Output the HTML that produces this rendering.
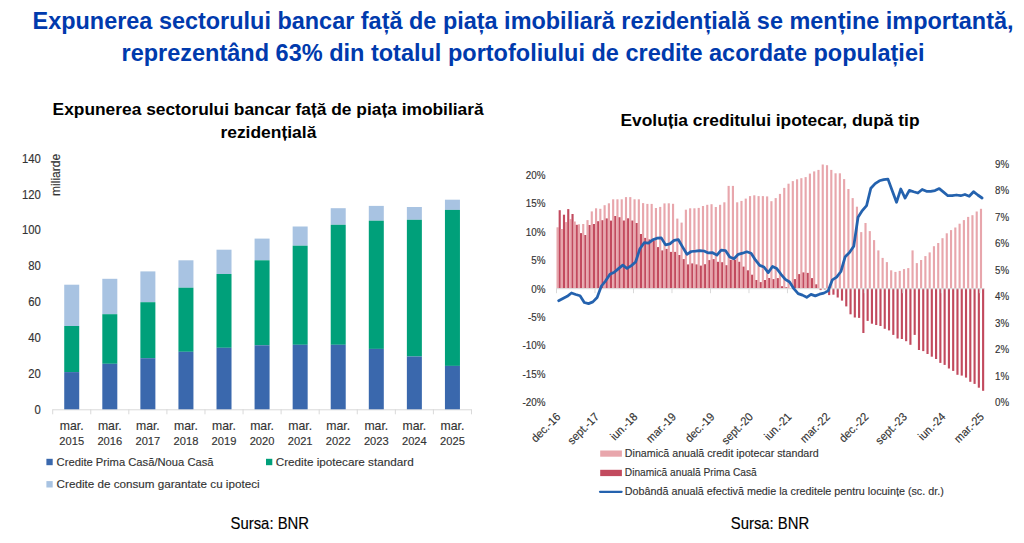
<!DOCTYPE html>
<html><head><meta charset="utf-8"><style>
html,body{margin:0;padding:0;background:#fff;width:1024px;height:543px;overflow:hidden}
svg{display:block;font-family:"Liberation Sans", sans-serif}
</style></head><body>
<svg width="1024" height="543" viewBox="0 0 1024 543">
<rect width="1024" height="543" fill="#fff"/>
<text x="523" y="29" font-size="23.6" fill="#003AAD" font-weight="bold" text-anchor="middle" textLength="981" lengthAdjust="spacingAndGlyphs" >Expunerea sectorului bancar față de piața imobiliară rezidențială se menține importantă,</text>
<text x="523" y="61" font-size="23.6" fill="#003AAD" font-weight="bold" text-anchor="middle" textLength="803" lengthAdjust="spacingAndGlyphs" >reprezentând 63% din totalul portofoliului de credite acordate populației</text>
<text x="268.1" y="114.7" font-size="17.2" fill="#000" font-weight="bold" text-anchor="middle" textLength="431" lengthAdjust="spacingAndGlyphs" >Expunerea sectorului bancar față de piața imobiliară</text>
<text x="268.4" y="138.2" font-size="17.2" fill="#000" font-weight="bold" text-anchor="middle" textLength="96" lengthAdjust="spacingAndGlyphs" >rezidențială</text>
<text x="770" y="126.3" font-size="16.5" fill="#000" font-weight="bold" text-anchor="middle" textLength="299" lengthAdjust="spacingAndGlyphs" >Evoluția creditului ipotecar, după tip</text>
<line x1="52.7" y1="409.8" x2="471.46999999999997" y2="409.8" stroke="#D9D9D9" stroke-width="1"/>
<line x1="52.70" y1="409.3" x2="52.70" y2="414.3" stroke="#D9D9D9" stroke-width="1"/>
<line x1="90.77" y1="409.3" x2="90.77" y2="414.3" stroke="#D9D9D9" stroke-width="1"/>
<line x1="128.84" y1="409.3" x2="128.84" y2="414.3" stroke="#D9D9D9" stroke-width="1"/>
<line x1="166.91" y1="409.3" x2="166.91" y2="414.3" stroke="#D9D9D9" stroke-width="1"/>
<line x1="204.98" y1="409.3" x2="204.98" y2="414.3" stroke="#D9D9D9" stroke-width="1"/>
<line x1="243.05" y1="409.3" x2="243.05" y2="414.3" stroke="#D9D9D9" stroke-width="1"/>
<line x1="281.12" y1="409.3" x2="281.12" y2="414.3" stroke="#D9D9D9" stroke-width="1"/>
<line x1="319.19" y1="409.3" x2="319.19" y2="414.3" stroke="#D9D9D9" stroke-width="1"/>
<line x1="357.26" y1="409.3" x2="357.26" y2="414.3" stroke="#D9D9D9" stroke-width="1"/>
<line x1="395.33" y1="409.3" x2="395.33" y2="414.3" stroke="#D9D9D9" stroke-width="1"/>
<line x1="433.40" y1="409.3" x2="433.40" y2="414.3" stroke="#D9D9D9" stroke-width="1"/>
<line x1="471.47" y1="409.3" x2="471.47" y2="414.3" stroke="#D9D9D9" stroke-width="1"/>
<rect x="64.23" y="284.7" width="15.0" height="41.30" fill="#A8C3E2"/>
<rect x="64.23" y="326.0" width="15.0" height="46.10" fill="#00A07A"/>
<rect x="64.23" y="372.1" width="15.0" height="37.20" fill="#3A68AD"/>
<text x="71.73" y="429.8" font-size="12.2" fill="#333333" font-weight="normal" text-anchor="middle" stroke="#333333" stroke-width="0.15" textLength="23.8" lengthAdjust="spacingAndGlyphs" >mar.</text>
<text x="71.73" y="445.1" font-size="11.8" fill="#333333" font-weight="normal" text-anchor="middle" stroke="#333333" stroke-width="0.15" textLength="24.8" lengthAdjust="spacingAndGlyphs" >2015</text>
<rect x="102.31" y="278.8" width="15.0" height="35.40" fill="#A8C3E2"/>
<rect x="102.31" y="314.2" width="15.0" height="49.60" fill="#00A07A"/>
<rect x="102.31" y="363.8" width="15.0" height="45.50" fill="#3A68AD"/>
<text x="109.81" y="429.8" font-size="12.2" fill="#333333" font-weight="normal" text-anchor="middle" stroke="#333333" stroke-width="0.15" textLength="23.8" lengthAdjust="spacingAndGlyphs" >mar.</text>
<text x="109.81" y="445.1" font-size="11.8" fill="#333333" font-weight="normal" text-anchor="middle" stroke="#333333" stroke-width="0.15" textLength="24.8" lengthAdjust="spacingAndGlyphs" >2016</text>
<rect x="140.38" y="271.4" width="15.0" height="30.80" fill="#A8C3E2"/>
<rect x="140.38" y="302.2" width="15.0" height="56.00" fill="#00A07A"/>
<rect x="140.38" y="358.2" width="15.0" height="51.10" fill="#3A68AD"/>
<text x="147.88" y="429.8" font-size="12.2" fill="#333333" font-weight="normal" text-anchor="middle" stroke="#333333" stroke-width="0.15" textLength="23.8" lengthAdjust="spacingAndGlyphs" >mar.</text>
<text x="147.88" y="445.1" font-size="11.8" fill="#333333" font-weight="normal" text-anchor="middle" stroke="#333333" stroke-width="0.15" textLength="24.8" lengthAdjust="spacingAndGlyphs" >2017</text>
<rect x="178.44" y="260.3" width="15.0" height="27.40" fill="#A8C3E2"/>
<rect x="178.44" y="287.7" width="15.0" height="64.10" fill="#00A07A"/>
<rect x="178.44" y="351.8" width="15.0" height="57.50" fill="#3A68AD"/>
<text x="185.94" y="429.8" font-size="12.2" fill="#333333" font-weight="normal" text-anchor="middle" stroke="#333333" stroke-width="0.15" textLength="23.8" lengthAdjust="spacingAndGlyphs" >mar.</text>
<text x="185.94" y="445.1" font-size="11.8" fill="#333333" font-weight="normal" text-anchor="middle" stroke="#333333" stroke-width="0.15" textLength="24.8" lengthAdjust="spacingAndGlyphs" >2018</text>
<rect x="216.51" y="249.7" width="15.0" height="24.30" fill="#A8C3E2"/>
<rect x="216.51" y="274.0" width="15.0" height="73.80" fill="#00A07A"/>
<rect x="216.51" y="347.8" width="15.0" height="61.50" fill="#3A68AD"/>
<text x="224.01" y="429.8" font-size="12.2" fill="#333333" font-weight="normal" text-anchor="middle" stroke="#333333" stroke-width="0.15" textLength="23.8" lengthAdjust="spacingAndGlyphs" >mar.</text>
<text x="224.01" y="445.1" font-size="11.8" fill="#333333" font-weight="normal" text-anchor="middle" stroke="#333333" stroke-width="0.15" textLength="24.8" lengthAdjust="spacingAndGlyphs" >2019</text>
<rect x="254.58" y="238.6" width="15.0" height="21.70" fill="#A8C3E2"/>
<rect x="254.58" y="260.3" width="15.0" height="85.00" fill="#00A07A"/>
<rect x="254.58" y="345.3" width="15.0" height="64.00" fill="#3A68AD"/>
<text x="262.08" y="429.8" font-size="12.2" fill="#333333" font-weight="normal" text-anchor="middle" stroke="#333333" stroke-width="0.15" textLength="23.8" lengthAdjust="spacingAndGlyphs" >mar.</text>
<text x="262.08" y="445.1" font-size="11.8" fill="#333333" font-weight="normal" text-anchor="middle" stroke="#333333" stroke-width="0.15" textLength="24.8" lengthAdjust="spacingAndGlyphs" >2020</text>
<rect x="292.66" y="226.5" width="15.0" height="19.20" fill="#A8C3E2"/>
<rect x="292.66" y="245.7" width="15.0" height="99.10" fill="#00A07A"/>
<rect x="292.66" y="344.8" width="15.0" height="64.50" fill="#3A68AD"/>
<text x="300.16" y="429.8" font-size="12.2" fill="#333333" font-weight="normal" text-anchor="middle" stroke="#333333" stroke-width="0.15" textLength="23.8" lengthAdjust="spacingAndGlyphs" >mar.</text>
<text x="300.16" y="445.1" font-size="11.8" fill="#333333" font-weight="normal" text-anchor="middle" stroke="#333333" stroke-width="0.15" textLength="24.8" lengthAdjust="spacingAndGlyphs" >2021</text>
<rect x="330.72" y="208.2" width="15.0" height="16.60" fill="#A8C3E2"/>
<rect x="330.72" y="224.8" width="15.0" height="120.00" fill="#00A07A"/>
<rect x="330.72" y="344.8" width="15.0" height="64.50" fill="#3A68AD"/>
<text x="338.22" y="429.8" font-size="12.2" fill="#333333" font-weight="normal" text-anchor="middle" stroke="#333333" stroke-width="0.15" textLength="23.8" lengthAdjust="spacingAndGlyphs" >mar.</text>
<text x="338.22" y="445.1" font-size="11.8" fill="#333333" font-weight="normal" text-anchor="middle" stroke="#333333" stroke-width="0.15" textLength="24.8" lengthAdjust="spacingAndGlyphs" >2022</text>
<rect x="368.80" y="205.9" width="15.0" height="14.80" fill="#A8C3E2"/>
<rect x="368.80" y="220.7" width="15.0" height="128.20" fill="#00A07A"/>
<rect x="368.80" y="348.9" width="15.0" height="60.40" fill="#3A68AD"/>
<text x="376.30" y="429.8" font-size="12.2" fill="#333333" font-weight="normal" text-anchor="middle" stroke="#333333" stroke-width="0.15" textLength="23.8" lengthAdjust="spacingAndGlyphs" >mar.</text>
<text x="376.30" y="445.1" font-size="11.8" fill="#333333" font-weight="normal" text-anchor="middle" stroke="#333333" stroke-width="0.15" textLength="24.8" lengthAdjust="spacingAndGlyphs" >2023</text>
<rect x="406.87" y="207.0" width="15.0" height="12.80" fill="#A8C3E2"/>
<rect x="406.87" y="219.8" width="15.0" height="136.70" fill="#00A07A"/>
<rect x="406.87" y="356.5" width="15.0" height="52.80" fill="#3A68AD"/>
<text x="414.37" y="429.8" font-size="12.2" fill="#333333" font-weight="normal" text-anchor="middle" stroke="#333333" stroke-width="0.15" textLength="23.8" lengthAdjust="spacingAndGlyphs" >mar.</text>
<text x="414.37" y="445.1" font-size="11.8" fill="#333333" font-weight="normal" text-anchor="middle" stroke="#333333" stroke-width="0.15" textLength="24.8" lengthAdjust="spacingAndGlyphs" >2024</text>
<rect x="444.94" y="199.7" width="15.0" height="10.20" fill="#A8C3E2"/>
<rect x="444.94" y="209.9" width="15.0" height="156.00" fill="#00A07A"/>
<rect x="444.94" y="365.9" width="15.0" height="43.40" fill="#3A68AD"/>
<text x="452.44" y="429.8" font-size="12.2" fill="#333333" font-weight="normal" text-anchor="middle" stroke="#333333" stroke-width="0.15" textLength="23.8" lengthAdjust="spacingAndGlyphs" >mar.</text>
<text x="452.44" y="445.1" font-size="11.8" fill="#333333" font-weight="normal" text-anchor="middle" stroke="#333333" stroke-width="0.15" textLength="24.8" lengthAdjust="spacingAndGlyphs" >2025</text>
<text x="40.9" y="413.70" font-size="12.2" fill="#333333" font-weight="normal" text-anchor="end" stroke="#333333" stroke-width="0.15" textLength="6.28" lengthAdjust="spacingAndGlyphs" >0</text>
<text x="40.9" y="377.84" font-size="12.2" fill="#333333" font-weight="normal" text-anchor="end" stroke="#333333" stroke-width="0.15" textLength="12.55" lengthAdjust="spacingAndGlyphs" >20</text>
<text x="40.9" y="341.98" font-size="12.2" fill="#333333" font-weight="normal" text-anchor="end" stroke="#333333" stroke-width="0.15" textLength="12.55" lengthAdjust="spacingAndGlyphs" >40</text>
<text x="40.9" y="306.12" font-size="12.2" fill="#333333" font-weight="normal" text-anchor="end" stroke="#333333" stroke-width="0.15" textLength="12.55" lengthAdjust="spacingAndGlyphs" >60</text>
<text x="40.9" y="270.26" font-size="12.2" fill="#333333" font-weight="normal" text-anchor="end" stroke="#333333" stroke-width="0.15" textLength="12.55" lengthAdjust="spacingAndGlyphs" >80</text>
<text x="40.9" y="234.40" font-size="12.2" fill="#333333" font-weight="normal" text-anchor="end" stroke="#333333" stroke-width="0.15" textLength="18.83" lengthAdjust="spacingAndGlyphs" >100</text>
<text x="40.9" y="198.54" font-size="12.2" fill="#333333" font-weight="normal" text-anchor="end" stroke="#333333" stroke-width="0.15" textLength="18.83" lengthAdjust="spacingAndGlyphs" >120</text>
<text x="40.9" y="162.68" font-size="12.2" fill="#333333" font-weight="normal" text-anchor="end" stroke="#333333" stroke-width="0.15" textLength="18.83" lengthAdjust="spacingAndGlyphs" >140</text>
<text x="0" y="0" font-size="13.2" fill="#333333" stroke="#333333" stroke-width="0.15" text-anchor="end" transform="translate(60.2,153.7) rotate(-90)" textLength="42.3" lengthAdjust="spacingAndGlyphs">miliarde</text>
<rect x="46.4" y="458.8" width="6.3" height="6.4" fill="#3A68AD"/>
<text x="56.6" y="466" font-size="11.8" fill="#333333" font-weight="normal" text-anchor="start" stroke="#333333" stroke-width="0.15" textLength="157" lengthAdjust="spacingAndGlyphs" >Credite Prima Casă/Noua Casă</text>
<rect x="266" y="458.8" width="6.3" height="6.4" fill="#00A07A"/>
<text x="275.7" y="466" font-size="11.8" fill="#333333" font-weight="normal" text-anchor="start" stroke="#333333" stroke-width="0.15" textLength="138" lengthAdjust="spacingAndGlyphs" >Credite ipotecare standard</text>
<rect x="46.4" y="481.1" width="6.3" height="6.4" fill="#A8C3E2"/>
<text x="56.6" y="488.1" font-size="11.8" fill="#333333" font-weight="normal" text-anchor="start" stroke="#333333" stroke-width="0.15" textLength="203" lengthAdjust="spacingAndGlyphs" >Credite de consum garantate cu ipoteci</text>
<text x="269.8" y="528.5" font-size="16.6" fill="#000" font-weight="normal" text-anchor="middle" stroke="#000" stroke-width="0.15" textLength="78.5" lengthAdjust="spacingAndGlyphs" >Sursa: BNR</text>
<rect x="556.50" y="227.3" width="2.139" height="60.90" fill="#E8A6AC"/>
<rect x="558.64" y="210.2" width="2.139" height="78.00" fill="#C24A5E"/>
<rect x="560.78" y="229" width="2.139" height="59.20" fill="#E8A6AC"/>
<rect x="562.92" y="214.7" width="2.139" height="73.50" fill="#C24A5E"/>
<rect x="565.05" y="222.1" width="2.139" height="66.10" fill="#E8A6AC"/>
<rect x="567.19" y="209.1" width="2.139" height="79.10" fill="#C24A5E"/>
<rect x="569.33" y="219.1" width="2.139" height="69.10" fill="#E8A6AC"/>
<rect x="571.47" y="214" width="2.139" height="74.20" fill="#C24A5E"/>
<rect x="573.61" y="221.5" width="2.139" height="66.70" fill="#E8A6AC"/>
<rect x="575.75" y="224.8" width="2.139" height="63.40" fill="#C24A5E"/>
<rect x="577.88" y="224.3" width="2.139" height="63.90" fill="#E8A6AC"/>
<rect x="580.02" y="233.1" width="2.139" height="55.10" fill="#C24A5E"/>
<rect x="582.16" y="224" width="2.139" height="64.20" fill="#E8A6AC"/>
<rect x="584.30" y="235" width="2.139" height="53.20" fill="#C24A5E"/>
<rect x="586.44" y="220.1" width="2.139" height="68.10" fill="#E8A6AC"/>
<rect x="588.58" y="225" width="2.139" height="63.20" fill="#C24A5E"/>
<rect x="590.72" y="211.4" width="2.139" height="76.80" fill="#E8A6AC"/>
<rect x="592.85" y="224" width="2.139" height="64.20" fill="#C24A5E"/>
<rect x="594.99" y="208.3" width="2.139" height="79.90" fill="#E8A6AC"/>
<rect x="597.13" y="221.2" width="2.139" height="67.00" fill="#C24A5E"/>
<rect x="599.27" y="208.8" width="2.139" height="79.40" fill="#E8A6AC"/>
<rect x="601.41" y="220.2" width="2.139" height="68.00" fill="#C24A5E"/>
<rect x="603.55" y="205.2" width="2.139" height="83.00" fill="#E8A6AC"/>
<rect x="605.69" y="218.4" width="2.139" height="69.80" fill="#C24A5E"/>
<rect x="607.82" y="203.3" width="2.139" height="84.90" fill="#E8A6AC"/>
<rect x="609.96" y="220.6" width="2.139" height="67.60" fill="#C24A5E"/>
<rect x="612.10" y="199.3" width="2.139" height="88.90" fill="#E8A6AC"/>
<rect x="614.24" y="216" width="2.139" height="72.20" fill="#C24A5E"/>
<rect x="616.38" y="199.3" width="2.139" height="88.90" fill="#E8A6AC"/>
<rect x="618.52" y="217.2" width="2.139" height="71.00" fill="#C24A5E"/>
<rect x="620.65" y="199.3" width="2.139" height="88.90" fill="#E8A6AC"/>
<rect x="622.79" y="220.5" width="2.139" height="67.70" fill="#C24A5E"/>
<rect x="624.93" y="197.1" width="2.139" height="91.10" fill="#E8A6AC"/>
<rect x="627.07" y="218.3" width="2.139" height="69.90" fill="#C24A5E"/>
<rect x="629.21" y="197.1" width="2.139" height="91.10" fill="#E8A6AC"/>
<rect x="631.35" y="220.5" width="2.139" height="67.70" fill="#C24A5E"/>
<rect x="633.49" y="199.3" width="2.139" height="88.90" fill="#E8A6AC"/>
<rect x="635.62" y="223" width="2.139" height="65.20" fill="#C24A5E"/>
<rect x="637.76" y="199.3" width="2.139" height="88.90" fill="#E8A6AC"/>
<rect x="639.90" y="234" width="2.139" height="54.20" fill="#C24A5E"/>
<rect x="642.04" y="203.1" width="2.139" height="85.10" fill="#E8A6AC"/>
<rect x="644.18" y="237.9" width="2.139" height="50.30" fill="#C24A5E"/>
<rect x="646.32" y="203.9" width="2.139" height="84.30" fill="#E8A6AC"/>
<rect x="648.46" y="239.4" width="2.139" height="48.80" fill="#C24A5E"/>
<rect x="650.59" y="203.9" width="2.139" height="84.30" fill="#E8A6AC"/>
<rect x="652.73" y="241" width="2.139" height="47.20" fill="#C24A5E"/>
<rect x="654.87" y="208" width="2.139" height="80.20" fill="#E8A6AC"/>
<rect x="657.01" y="247.1" width="2.139" height="41.10" fill="#C24A5E"/>
<rect x="659.15" y="206.9" width="2.139" height="81.30" fill="#E8A6AC"/>
<rect x="661.29" y="250.4" width="2.139" height="37.80" fill="#C24A5E"/>
<rect x="663.42" y="203.4" width="2.139" height="84.80" fill="#E8A6AC"/>
<rect x="665.56" y="248.9" width="2.139" height="39.30" fill="#C24A5E"/>
<rect x="667.70" y="203.3" width="2.139" height="84.90" fill="#E8A6AC"/>
<rect x="669.84" y="251.9" width="2.139" height="36.30" fill="#C24A5E"/>
<rect x="671.98" y="203.8" width="2.139" height="84.40" fill="#E8A6AC"/>
<rect x="674.12" y="251.9" width="2.139" height="36.30" fill="#C24A5E"/>
<rect x="676.26" y="218.6" width="2.139" height="69.60" fill="#E8A6AC"/>
<rect x="678.39" y="255" width="2.139" height="33.20" fill="#C24A5E"/>
<rect x="680.53" y="222.6" width="2.139" height="65.60" fill="#E8A6AC"/>
<rect x="682.67" y="259.1" width="2.139" height="29.10" fill="#C24A5E"/>
<rect x="684.81" y="209.7" width="2.139" height="78.50" fill="#E8A6AC"/>
<rect x="686.95" y="264.4" width="2.139" height="23.80" fill="#C24A5E"/>
<rect x="689.09" y="208.3" width="2.139" height="79.90" fill="#E8A6AC"/>
<rect x="691.23" y="263.4" width="2.139" height="24.80" fill="#C24A5E"/>
<rect x="693.36" y="208.3" width="2.139" height="79.90" fill="#E8A6AC"/>
<rect x="695.50" y="264.4" width="2.139" height="23.80" fill="#C24A5E"/>
<rect x="697.64" y="207.9" width="2.139" height="80.30" fill="#E8A6AC"/>
<rect x="699.78" y="265.6" width="2.139" height="22.60" fill="#C24A5E"/>
<rect x="701.92" y="206" width="2.139" height="82.20" fill="#E8A6AC"/>
<rect x="704.06" y="264.2" width="2.139" height="24.00" fill="#C24A5E"/>
<rect x="706.19" y="204.8" width="2.139" height="83.40" fill="#E8A6AC"/>
<rect x="708.33" y="260.1" width="2.139" height="28.10" fill="#C24A5E"/>
<rect x="710.47" y="204.2" width="2.139" height="84.00" fill="#E8A6AC"/>
<rect x="712.61" y="259.1" width="2.139" height="29.10" fill="#C24A5E"/>
<rect x="714.75" y="207" width="2.139" height="81.20" fill="#E8A6AC"/>
<rect x="716.89" y="261.8" width="2.139" height="26.40" fill="#C24A5E"/>
<rect x="719.03" y="204.8" width="2.139" height="83.40" fill="#E8A6AC"/>
<rect x="721.16" y="262.2" width="2.139" height="26.00" fill="#C24A5E"/>
<rect x="723.30" y="202.3" width="2.139" height="85.90" fill="#E8A6AC"/>
<rect x="725.44" y="265.2" width="2.139" height="23.00" fill="#C24A5E"/>
<rect x="727.58" y="185.9" width="2.139" height="102.30" fill="#E8A6AC"/>
<rect x="729.72" y="259.8" width="2.139" height="28.40" fill="#C24A5E"/>
<rect x="731.86" y="185.9" width="2.139" height="102.30" fill="#E8A6AC"/>
<rect x="734.00" y="259.8" width="2.139" height="28.40" fill="#C24A5E"/>
<rect x="736.13" y="202.3" width="2.139" height="85.90" fill="#E8A6AC"/>
<rect x="738.27" y="261.8" width="2.139" height="26.40" fill="#C24A5E"/>
<rect x="740.41" y="200.9" width="2.139" height="87.30" fill="#E8A6AC"/>
<rect x="742.55" y="266.6" width="2.139" height="21.60" fill="#C24A5E"/>
<rect x="744.69" y="198.6" width="2.139" height="89.60" fill="#E8A6AC"/>
<rect x="746.83" y="270.3" width="2.139" height="17.90" fill="#C24A5E"/>
<rect x="748.97" y="196.1" width="2.139" height="92.10" fill="#E8A6AC"/>
<rect x="751.10" y="274.7" width="2.139" height="13.50" fill="#C24A5E"/>
<rect x="753.24" y="195.3" width="2.139" height="92.90" fill="#E8A6AC"/>
<rect x="755.38" y="280" width="2.139" height="8.20" fill="#C24A5E"/>
<rect x="757.52" y="196.1" width="2.139" height="92.10" fill="#E8A6AC"/>
<rect x="759.66" y="282.1" width="2.139" height="6.10" fill="#C24A5E"/>
<rect x="761.80" y="196.1" width="2.139" height="92.10" fill="#E8A6AC"/>
<rect x="763.93" y="280" width="2.139" height="8.20" fill="#C24A5E"/>
<rect x="766.07" y="196.4" width="2.139" height="91.80" fill="#E8A6AC"/>
<rect x="768.21" y="278" width="2.139" height="10.20" fill="#C24A5E"/>
<rect x="770.35" y="201.2" width="2.139" height="87.00" fill="#E8A6AC"/>
<rect x="772.49" y="279.1" width="2.139" height="9.10" fill="#C24A5E"/>
<rect x="774.63" y="198.1" width="2.139" height="90.10" fill="#E8A6AC"/>
<rect x="776.77" y="278.1" width="2.139" height="10.10" fill="#C24A5E"/>
<rect x="778.90" y="193.9" width="2.139" height="94.30" fill="#E8A6AC"/>
<rect x="781.04" y="286.2" width="2.139" height="2.00" fill="#C24A5E"/>
<rect x="783.18" y="187.9" width="2.139" height="100.30" fill="#E8A6AC"/>
<rect x="785.32" y="287.2" width="2.139" height="1.00" fill="#C24A5E"/>
<rect x="787.46" y="183.7" width="2.139" height="104.50" fill="#E8A6AC"/>
<rect x="789.60" y="288" width="2.139" height="0.20" fill="#C24A5E"/>
<rect x="791.74" y="181.1" width="2.139" height="107.10" fill="#E8A6AC"/>
<rect x="793.87" y="279.1" width="2.139" height="9.10" fill="#C24A5E"/>
<rect x="796.01" y="179.3" width="2.139" height="108.90" fill="#E8A6AC"/>
<rect x="798.15" y="274.1" width="2.139" height="14.10" fill="#C24A5E"/>
<rect x="800.29" y="178.2" width="2.139" height="110.00" fill="#E8A6AC"/>
<rect x="802.43" y="272.4" width="2.139" height="15.80" fill="#C24A5E"/>
<rect x="804.57" y="177.1" width="2.139" height="111.10" fill="#E8A6AC"/>
<rect x="806.70" y="272.9" width="2.139" height="15.30" fill="#C24A5E"/>
<rect x="808.84" y="173.6" width="2.139" height="114.60" fill="#E8A6AC"/>
<rect x="810.98" y="278.1" width="2.139" height="10.10" fill="#C24A5E"/>
<rect x="813.12" y="171.4" width="2.139" height="116.80" fill="#E8A6AC"/>
<rect x="815.26" y="284.3" width="2.139" height="3.90" fill="#C24A5E"/>
<rect x="817.40" y="169.9" width="2.139" height="118.30" fill="#E8A6AC"/>
<rect x="819.54" y="288.2" width="2.139" height="1.90" fill="#C24A5E"/>
<rect x="821.67" y="164.5" width="2.139" height="123.70" fill="#E8A6AC"/>
<rect x="823.81" y="288.2" width="2.139" height="1.30" fill="#C24A5E"/>
<rect x="825.95" y="165.2" width="2.139" height="123.00" fill="#E8A6AC"/>
<rect x="828.09" y="288.2" width="2.139" height="6.90" fill="#C24A5E"/>
<rect x="830.23" y="169.9" width="2.139" height="118.30" fill="#E8A6AC"/>
<rect x="832.37" y="288.2" width="2.139" height="6.50" fill="#C24A5E"/>
<rect x="834.50" y="173.3" width="2.139" height="114.90" fill="#E8A6AC"/>
<rect x="836.64" y="288.2" width="2.139" height="9.30" fill="#C24A5E"/>
<rect x="838.78" y="173.3" width="2.139" height="114.90" fill="#E8A6AC"/>
<rect x="840.92" y="288.2" width="2.139" height="12.40" fill="#C24A5E"/>
<rect x="843.06" y="179.1" width="2.139" height="109.10" fill="#E8A6AC"/>
<rect x="845.20" y="288.2" width="2.139" height="18.20" fill="#C24A5E"/>
<rect x="847.34" y="189" width="2.139" height="99.20" fill="#E8A6AC"/>
<rect x="849.47" y="288.2" width="2.139" height="26.10" fill="#C24A5E"/>
<rect x="851.61" y="198.1" width="2.139" height="90.10" fill="#E8A6AC"/>
<rect x="853.75" y="288.2" width="2.139" height="29.30" fill="#C24A5E"/>
<rect x="855.89" y="206.7" width="2.139" height="81.50" fill="#E8A6AC"/>
<rect x="858.03" y="288.2" width="2.139" height="29.70" fill="#C24A5E"/>
<rect x="860.17" y="232.1" width="2.139" height="56.10" fill="#E8A6AC"/>
<rect x="862.31" y="288.2" width="2.139" height="44.80" fill="#C24A5E"/>
<rect x="864.44" y="223" width="2.139" height="65.20" fill="#E8A6AC"/>
<rect x="866.58" y="288.2" width="2.139" height="32.70" fill="#C24A5E"/>
<rect x="868.72" y="231.1" width="2.139" height="57.10" fill="#E8A6AC"/>
<rect x="870.86" y="288.2" width="2.139" height="35.50" fill="#C24A5E"/>
<rect x="873.00" y="240.1" width="2.139" height="48.10" fill="#E8A6AC"/>
<rect x="875.14" y="288.2" width="2.139" height="36.80" fill="#C24A5E"/>
<rect x="877.28" y="250.4" width="2.139" height="37.80" fill="#E8A6AC"/>
<rect x="879.41" y="288.2" width="2.139" height="37.80" fill="#C24A5E"/>
<rect x="881.55" y="257.9" width="2.139" height="30.30" fill="#E8A6AC"/>
<rect x="883.69" y="288.2" width="2.139" height="40.60" fill="#C24A5E"/>
<rect x="885.83" y="262.1" width="2.139" height="26.10" fill="#E8A6AC"/>
<rect x="887.97" y="288.2" width="2.139" height="42.20" fill="#C24A5E"/>
<rect x="890.11" y="270.3" width="2.139" height="17.90" fill="#E8A6AC"/>
<rect x="892.24" y="288.2" width="2.139" height="46.70" fill="#C24A5E"/>
<rect x="894.38" y="271.9" width="2.139" height="16.30" fill="#E8A6AC"/>
<rect x="896.52" y="288.2" width="2.139" height="50.30" fill="#C24A5E"/>
<rect x="898.66" y="270.9" width="2.139" height="17.30" fill="#E8A6AC"/>
<rect x="900.80" y="288.2" width="2.139" height="50.80" fill="#C24A5E"/>
<rect x="902.94" y="269.1" width="2.139" height="19.10" fill="#E8A6AC"/>
<rect x="905.08" y="288.2" width="2.139" height="53.00" fill="#C24A5E"/>
<rect x="907.21" y="268.1" width="2.139" height="20.10" fill="#E8A6AC"/>
<rect x="909.35" y="288.2" width="2.139" height="56.60" fill="#C24A5E"/>
<rect x="911.49" y="250.4" width="2.139" height="37.80" fill="#E8A6AC"/>
<rect x="913.63" y="288.2" width="2.139" height="46.70" fill="#C24A5E"/>
<rect x="915.77" y="263.1" width="2.139" height="25.10" fill="#E8A6AC"/>
<rect x="917.91" y="288.2" width="2.139" height="61.80" fill="#C24A5E"/>
<rect x="920.05" y="260" width="2.139" height="28.20" fill="#E8A6AC"/>
<rect x="922.18" y="288.2" width="2.139" height="62.90" fill="#C24A5E"/>
<rect x="924.32" y="256.1" width="2.139" height="32.10" fill="#E8A6AC"/>
<rect x="926.46" y="288.2" width="2.139" height="65.80" fill="#C24A5E"/>
<rect x="928.60" y="252.4" width="2.139" height="35.80" fill="#E8A6AC"/>
<rect x="930.74" y="288.2" width="2.139" height="68.50" fill="#C24A5E"/>
<rect x="932.88" y="246.2" width="2.139" height="42.00" fill="#E8A6AC"/>
<rect x="935.01" y="288.2" width="2.139" height="70.80" fill="#C24A5E"/>
<rect x="937.15" y="243" width="2.139" height="45.20" fill="#E8A6AC"/>
<rect x="939.29" y="288.2" width="2.139" height="74.70" fill="#C24A5E"/>
<rect x="941.43" y="238.2" width="2.139" height="50.00" fill="#E8A6AC"/>
<rect x="943.57" y="288.2" width="2.139" height="76.70" fill="#C24A5E"/>
<rect x="945.71" y="233.3" width="2.139" height="54.90" fill="#E8A6AC"/>
<rect x="947.85" y="288.2" width="2.139" height="80.30" fill="#C24A5E"/>
<rect x="949.98" y="230.1" width="2.139" height="58.10" fill="#E8A6AC"/>
<rect x="952.12" y="288.2" width="2.139" height="82.70" fill="#C24A5E"/>
<rect x="954.26" y="227.5" width="2.139" height="60.70" fill="#E8A6AC"/>
<rect x="956.40" y="288.2" width="2.139" height="86.60" fill="#C24A5E"/>
<rect x="958.54" y="223.7" width="2.139" height="64.50" fill="#E8A6AC"/>
<rect x="960.68" y="288.2" width="2.139" height="87.40" fill="#C24A5E"/>
<rect x="962.82" y="220.1" width="2.139" height="68.10" fill="#E8A6AC"/>
<rect x="964.95" y="288.2" width="2.139" height="89.40" fill="#C24A5E"/>
<rect x="967.09" y="216.9" width="2.139" height="71.30" fill="#E8A6AC"/>
<rect x="969.23" y="288.2" width="2.139" height="93.60" fill="#C24A5E"/>
<rect x="971.37" y="215.2" width="2.139" height="73.00" fill="#E8A6AC"/>
<rect x="973.51" y="288.2" width="2.139" height="95.70" fill="#C24A5E"/>
<rect x="975.65" y="211.5" width="2.139" height="76.70" fill="#E8A6AC"/>
<rect x="977.78" y="288.2" width="2.139" height="99.50" fill="#C24A5E"/>
<rect x="979.92" y="208.8" width="2.139" height="79.40" fill="#E8A6AC"/>
<rect x="982.06" y="288.2" width="2.139" height="102.60" fill="#C24A5E"/>
<line x1="556.5" y1="288.7" x2="984.20" y2="288.7" stroke="#D9D9D9" stroke-width="1"/>
<line x1="556.50" y1="288.2" x2="556.50" y2="293.2" stroke="#D9D9D9" stroke-width="1"/>
<line x1="594.99" y1="288.2" x2="594.99" y2="293.2" stroke="#D9D9D9" stroke-width="1"/>
<line x1="633.49" y1="288.2" x2="633.49" y2="293.2" stroke="#D9D9D9" stroke-width="1"/>
<line x1="671.98" y1="288.2" x2="671.98" y2="293.2" stroke="#D9D9D9" stroke-width="1"/>
<line x1="710.47" y1="288.2" x2="710.47" y2="293.2" stroke="#D9D9D9" stroke-width="1"/>
<line x1="748.97" y1="288.2" x2="748.97" y2="293.2" stroke="#D9D9D9" stroke-width="1"/>
<line x1="787.46" y1="288.2" x2="787.46" y2="293.2" stroke="#D9D9D9" stroke-width="1"/>
<line x1="825.95" y1="288.2" x2="825.95" y2="293.2" stroke="#D9D9D9" stroke-width="1"/>
<line x1="864.44" y1="288.2" x2="864.44" y2="293.2" stroke="#D9D9D9" stroke-width="1"/>
<line x1="902.94" y1="288.2" x2="902.94" y2="293.2" stroke="#D9D9D9" stroke-width="1"/>
<line x1="941.43" y1="288.2" x2="941.43" y2="293.2" stroke="#D9D9D9" stroke-width="1"/>
<line x1="979.92" y1="288.2" x2="979.92" y2="293.2" stroke="#D9D9D9" stroke-width="1"/>
<polyline points="558.64,300.7 562.92,298.5 567.19,296.3 571.47,293 575.75,294.5 580.02,295.8 584.30,302.5 588.58,303.6 592.85,301.9 597.13,297.5 601.41,286 605.69,280.8 609.96,274.2 614.24,272.3 618.52,268.6 622.79,265.1 627.07,268.3 631.35,265.6 635.62,262 639.90,248.7 644.18,242.7 648.46,243.2 652.73,239.9 657.01,238.2 661.29,237.9 665.56,244.9 669.84,243.8 674.12,240.4 678.39,239.7 682.67,247.1 686.95,254.3 691.23,251.5 695.50,251.2 699.78,250.7 704.06,251 708.33,252.9 712.61,252.7 716.89,255.1 721.16,250.2 725.44,250.5 729.72,256.9 734.00,258.8 738.27,254.3 742.55,253.2 746.83,251.8 751.10,253.2 755.38,259.9 759.66,265.4 763.93,267 768.21,272.6 772.49,266.5 776.77,268.6 781.04,274.3 785.32,279.3 789.60,282 793.87,288.7 798.15,293.6 802.43,295.1 806.70,297.3 810.98,294.4 815.26,295.9 819.54,294.2 823.81,293.1 828.09,290.9 832.37,279.8 836.64,277.1 840.92,271.5 845.20,256.7 849.47,252.6 853.75,246.2 858.03,217.2 862.31,210.6 866.58,205.6 870.86,188.2 875.14,183.6 879.41,180.8 883.69,179.6 887.97,179.1 892.24,190.7 896.52,202.3 900.80,189 905.08,198.1 909.35,190.4 913.63,191.8 917.91,193 922.18,189.5 926.46,191.3 930.74,191.3 935.01,190.6 939.29,188.6 943.57,192.1 947.85,195.7 952.12,195.7 956.40,195 960.68,195.7 964.95,194.5 969.23,196.3 973.51,191.7 977.78,195 982.06,198" fill="none" stroke="#2462AE" stroke-width="2.75" stroke-linejoin="round" stroke-linecap="round"/>
<text x="545.6" y="178.90" font-size="11.2" fill="#333333" font-weight="normal" text-anchor="end" stroke="#333333" stroke-width="0.15" textLength="19.73" lengthAdjust="spacingAndGlyphs" >20%</text>
<text x="545.6" y="207.30" font-size="11.2" fill="#333333" font-weight="normal" text-anchor="end" stroke="#333333" stroke-width="0.15" textLength="19.73" lengthAdjust="spacingAndGlyphs" >15%</text>
<text x="545.6" y="235.70" font-size="11.2" fill="#333333" font-weight="normal" text-anchor="end" stroke="#333333" stroke-width="0.15" textLength="19.73" lengthAdjust="spacingAndGlyphs" >10%</text>
<text x="545.6" y="264.10" font-size="11.2" fill="#333333" font-weight="normal" text-anchor="end" stroke="#333333" stroke-width="0.15" textLength="14.24" lengthAdjust="spacingAndGlyphs" >5%</text>
<text x="545.6" y="292.50" font-size="11.2" fill="#333333" font-weight="normal" text-anchor="end" stroke="#333333" stroke-width="0.15" textLength="14.24" lengthAdjust="spacingAndGlyphs" >0%</text>
<text x="545.6" y="320.90" font-size="11.2" fill="#333333" font-weight="normal" text-anchor="end" stroke="#333333" stroke-width="0.15" textLength="17.53" lengthAdjust="spacingAndGlyphs" >-5%</text>
<text x="545.6" y="349.30" font-size="11.2" fill="#333333" font-weight="normal" text-anchor="end" stroke="#333333" stroke-width="0.15" textLength="23.01" lengthAdjust="spacingAndGlyphs" >-10%</text>
<text x="545.6" y="377.70" font-size="11.2" fill="#333333" font-weight="normal" text-anchor="end" stroke="#333333" stroke-width="0.15" textLength="23.01" lengthAdjust="spacingAndGlyphs" >-15%</text>
<text x="545.6" y="406.10" font-size="11.2" fill="#333333" font-weight="normal" text-anchor="end" stroke="#333333" stroke-width="0.15" textLength="23.01" lengthAdjust="spacingAndGlyphs" >-20%</text>
<text x="995" y="406.00" font-size="11.2" fill="#333333" font-weight="normal" text-anchor="start" stroke="#333333" stroke-width="0.15" textLength="14.08" lengthAdjust="spacingAndGlyphs" >0%</text>
<text x="995" y="379.54" font-size="11.2" fill="#333333" font-weight="normal" text-anchor="start" stroke="#333333" stroke-width="0.15" textLength="14.08" lengthAdjust="spacingAndGlyphs" >1%</text>
<text x="995" y="353.08" font-size="11.2" fill="#333333" font-weight="normal" text-anchor="start" stroke="#333333" stroke-width="0.15" textLength="14.08" lengthAdjust="spacingAndGlyphs" >2%</text>
<text x="995" y="326.62" font-size="11.2" fill="#333333" font-weight="normal" text-anchor="start" stroke="#333333" stroke-width="0.15" textLength="14.08" lengthAdjust="spacingAndGlyphs" >3%</text>
<text x="995" y="300.16" font-size="11.2" fill="#333333" font-weight="normal" text-anchor="start" stroke="#333333" stroke-width="0.15" textLength="14.08" lengthAdjust="spacingAndGlyphs" >4%</text>
<text x="995" y="273.70" font-size="11.2" fill="#333333" font-weight="normal" text-anchor="start" stroke="#333333" stroke-width="0.15" textLength="14.08" lengthAdjust="spacingAndGlyphs" >5%</text>
<text x="995" y="247.24" font-size="11.2" fill="#333333" font-weight="normal" text-anchor="start" stroke="#333333" stroke-width="0.15" textLength="14.08" lengthAdjust="spacingAndGlyphs" >6%</text>
<text x="995" y="220.78" font-size="11.2" fill="#333333" font-weight="normal" text-anchor="start" stroke="#333333" stroke-width="0.15" textLength="14.08" lengthAdjust="spacingAndGlyphs" >7%</text>
<text x="995" y="194.32" font-size="11.2" fill="#333333" font-weight="normal" text-anchor="start" stroke="#333333" stroke-width="0.15" textLength="14.08" lengthAdjust="spacingAndGlyphs" >8%</text>
<text x="995" y="167.86" font-size="11.2" fill="#333333" font-weight="normal" text-anchor="start" stroke="#333333" stroke-width="0.15" textLength="14.08" lengthAdjust="spacingAndGlyphs" >9%</text>
<text x="0" y="0" font-size="11.6" fill="#333333" stroke="#333333" stroke-width="0.15" text-anchor="end" textLength="35.98" lengthAdjust="spacingAndGlyphs" transform="translate(561.24,417.6) rotate(-45)">dec.-16</text>
<text x="0" y="0" font-size="11.6" fill="#333333" stroke="#333333" stroke-width="0.15" text-anchor="end" textLength="38.98" lengthAdjust="spacingAndGlyphs" transform="translate(599.73,417.6) rotate(-45)">sept.-17</text>
<text x="0" y="0" font-size="11.6" fill="#333333" stroke="#333333" stroke-width="0.15" text-anchor="end" textLength="32.98" lengthAdjust="spacingAndGlyphs" transform="translate(638.22,417.6) rotate(-45)">iun.-18</text>
<text x="0" y="0" font-size="11.6" fill="#333333" stroke="#333333" stroke-width="0.15" text-anchor="end" textLength="36.57" lengthAdjust="spacingAndGlyphs" transform="translate(676.72,417.6) rotate(-45)">mar.-19</text>
<text x="0" y="0" font-size="11.6" fill="#333333" stroke="#333333" stroke-width="0.15" text-anchor="end" textLength="35.98" lengthAdjust="spacingAndGlyphs" transform="translate(715.21,417.6) rotate(-45)">dec.-19</text>
<text x="0" y="0" font-size="11.6" fill="#333333" stroke="#333333" stroke-width="0.15" text-anchor="end" textLength="38.98" lengthAdjust="spacingAndGlyphs" transform="translate(753.70,417.6) rotate(-45)">sept.-20</text>
<text x="0" y="0" font-size="11.6" fill="#333333" stroke="#333333" stroke-width="0.15" text-anchor="end" textLength="32.98" lengthAdjust="spacingAndGlyphs" transform="translate(792.20,417.6) rotate(-45)">iun.-21</text>
<text x="0" y="0" font-size="11.6" fill="#333333" stroke="#333333" stroke-width="0.15" text-anchor="end" textLength="36.57" lengthAdjust="spacingAndGlyphs" transform="translate(830.69,417.6) rotate(-45)">mar.-22</text>
<text x="0" y="0" font-size="11.6" fill="#333333" stroke="#333333" stroke-width="0.15" text-anchor="end" textLength="35.98" lengthAdjust="spacingAndGlyphs" transform="translate(869.18,417.6) rotate(-45)">dec.-22</text>
<text x="0" y="0" font-size="11.6" fill="#333333" stroke="#333333" stroke-width="0.15" text-anchor="end" textLength="38.98" lengthAdjust="spacingAndGlyphs" transform="translate(907.68,417.6) rotate(-45)">sept.-23</text>
<text x="0" y="0" font-size="11.6" fill="#333333" stroke="#333333" stroke-width="0.15" text-anchor="end" textLength="32.98" lengthAdjust="spacingAndGlyphs" transform="translate(946.17,417.6) rotate(-45)">iun.-24</text>
<text x="0" y="0" font-size="11.6" fill="#333333" stroke="#333333" stroke-width="0.15" text-anchor="end" textLength="36.57" lengthAdjust="spacingAndGlyphs" transform="translate(984.66,417.6) rotate(-45)">mar.-25</text>
<rect x="600.2" y="450.5" width="21.7" height="6.2" fill="#E8A6AC"/>
<text x="624.8" y="457.2" font-size="11.2" fill="#333333" font-weight="normal" text-anchor="start" stroke="#333333" stroke-width="0.15" textLength="194" lengthAdjust="spacingAndGlyphs" >Dinamică anuală credit ipotecar standard</text>
<rect x="600.2" y="469.8" width="21.7" height="6.3" fill="#C24A5E"/>
<text x="624.8" y="476.1" font-size="11.2" fill="#333333" font-weight="normal" text-anchor="start" stroke="#333333" stroke-width="0.15" textLength="132" lengthAdjust="spacingAndGlyphs" >Dinamică anuală Prima Casă</text>
<line x1="600" y1="491.8" x2="621.6" y2="491.8" stroke="#2462AE" stroke-width="2.2" stroke-linecap="round"/>
<text x="624.8" y="494.7" font-size="11.2" fill="#333333" font-weight="normal" text-anchor="start" stroke="#333333" stroke-width="0.15" textLength="319" lengthAdjust="spacingAndGlyphs" >Dobândă anuală efectivă medie la creditele pentru locuințe (sc. dr.)</text>
<text x="770" y="528.5" font-size="16.6" fill="#000" font-weight="normal" text-anchor="middle" stroke="#000" stroke-width="0.15" textLength="78.5" lengthAdjust="spacingAndGlyphs" >Sursa: BNR</text>
</svg></body></html>
